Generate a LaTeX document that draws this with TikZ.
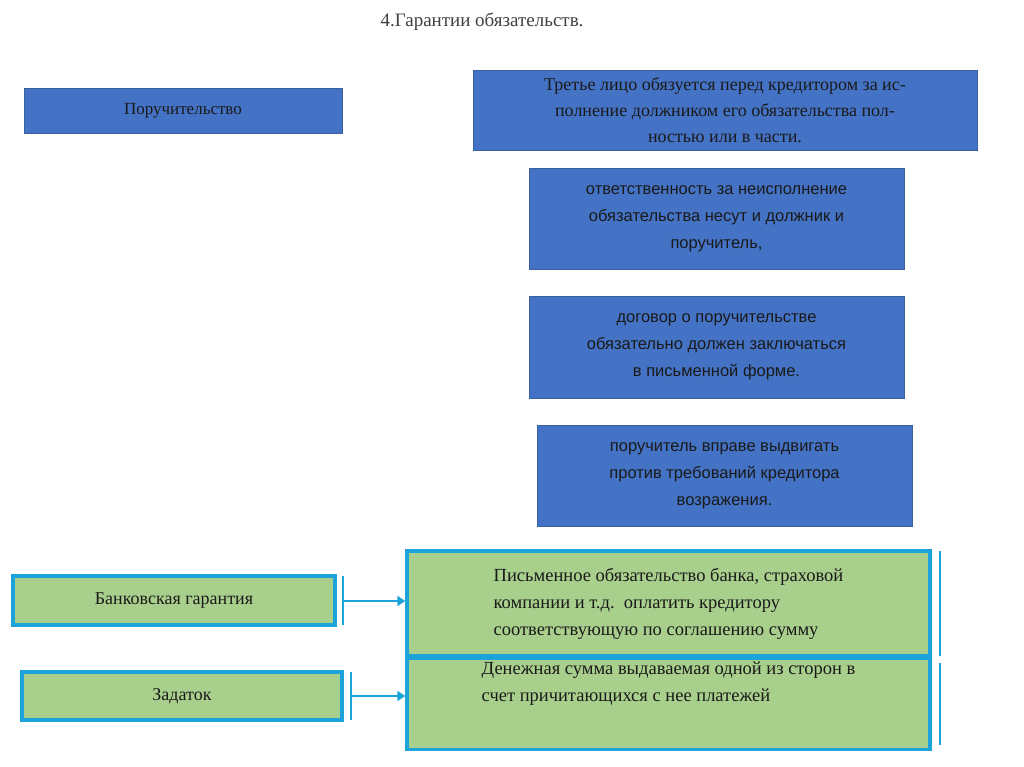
\documentclass[tikz,border=0pt]{standalone}
\usepackage{fontspec}
\setmainfont{Liberation Serif}
\newfontfamily\sansf{Liberation Sans}
\usetikzlibrary{arrows.meta}
\definecolor{bb}{HTML}{4472C4}
\definecolor{bbd}{HTML}{3A5F9F}
\definecolor{gr}{HTML}{A9CF8C}
\definecolor{cy}{HTML}{1BA3DA}
\definecolor{tx}{HTML}{1A1A1A}
\begin{document}
\begin{tikzpicture}[x=1pt,y=-1pt,
 bluebox/.style={draw=bbd,line width=0.8pt,fill=bb,text=tx,align=center},
 greenbox/.style={draw=cy,line width=3.5pt,fill=gr,text=tx},
 sideline/.style={cy,line width=2.5pt},
 conn/.style={cy,line width=2.5pt,-{Triangle[length=8pt,width=10pt]}}]
\useasboundingbox[fill=white] (0,0) rectangle (1024,767);
\node[anchor=center,text=black!75,font=\fontsize{19}{22}\selectfont] (t) at (482,22) {4.Гарантии обязательств.};
\node[bluebox,minimum width=318pt,minimum height=45pt,font=\fontsize{17}{20}\selectfont] (p) at (183,110.5) {Поручительство};
\node[bluebox,minimum width=504pt,minimum height=80pt,font=\fontsize{18}{26}\selectfont] (b1) at (725,110) {Третье лицо обязуется перед кредитором за ис-\\полнение должником его обязательства пол-\\ностью или в части.};
\node[bluebox,minimum width=375pt,minimum height=101pt,font=\sansf\fontsize{16.5}{27}\selectfont] (b2) at (716.5,218.5) {ответственность за неисполнение\\обязательства несут и должник и\\поручитель,};
\node[bluebox,minimum width=375pt,minimum height=102pt,font=\sansf\fontsize{16.5}{27}\selectfont] (b3) at (716.5,347) {договор о поручительстве\\обязательно должен заключаться\\в письменной форме.};
\node[bluebox,minimum width=375pt,minimum height=101pt,font=\sansf\fontsize{16.5}{27}\selectfont] (b4) at (724.5,475.5) {поручитель вправе выдвигать\\против требований кредитора\\возражения.};
\node[greenbox,minimum width=322pt,minimum height=49pt,font=\fontsize{18}{22}\selectfont] (bg) at (174,600.5) {Банковская гарантия};
\node[greenbox,minimum width=320pt,minimum height=48pt,font=\fontsize{18}{22}\selectfont] (z) at (182,696) {Задаток};
\node[greenbox,minimum width=523pt,minimum height=105pt,align=left,font=\fontsize{18.5}{27}\selectfont] (g1) at (668.5,603.5) {Письменное обязательство банка, страховой\\компании и т.д.\ \ оплатить кредитору\\соответствующую по соглашению сумму};
\node[greenbox,minimum width=523pt,minimum height=82pt,align=left,font=\fontsize{18.5}{27}\selectfont] (g2) at (668.5,704) {Денежная сумма выдаваемая одной из сторон в\\счет причитающихся с нее платежей\\[18pt]};
\coordinate (s1) at (343,601);
\coordinate (s2) at (351,696);
\draw[sideline] (343,576) -- (343,625);
\draw[sideline] (351,672) -- (351,720);
\draw[sideline] (940,551) -- (940,656);
\draw[sideline] (940,663) -- (940,745);
\draw[conn] (s1) -- (g1.west|-s1);
\draw[conn] (s2) -- (g2.west|-s2);
\end{tikzpicture}
\end{document}
